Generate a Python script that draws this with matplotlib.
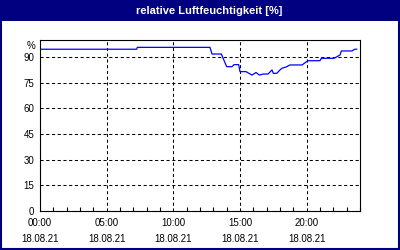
import numpy as np
import matplotlib
matplotlib.use("Agg")
import matplotlib.pyplot as plt
from matplotlib.patches import Rectangle

plt.rcParams['font.family'] = ['Liberation Sans', 'DejaVu Sans']

# Stunden seit 00:00 am 18.08.21 und rel. Feuchte in %
stunden = [0, 7.25, 7.3, 12.75, 12.9, 13.6, 14.0, 14.4, 14.55, 14.9, 15.0, 15.45,
           15.9, 16.2, 16.45, 16.75, 17.1, 17.4, 17.5, 17.75, 18.0, 18.15, 18.45,
           18.75, 19.65, 19.95, 20.1, 21.0, 21.1, 22.05, 22.5, 22.6, 23.4, 23.6, 23.75]
feuchte = [94.6, 94.6, 95.7, 95.7, 91.8, 91.8, 84.4, 84.4, 85.6, 85.6, 81.5, 81.5,
           79.5, 81.0, 79.5, 80.1, 80.1, 82.5, 80.5, 80.5, 82.5, 83.5, 84.2,
           85.4, 85.4, 87.1, 87.9, 87.9, 89.3, 89.3, 91.2, 93.6, 93.6, 94.6, 94.6]

x_ticks = [0, 5, 10, 15, 20]
x_labels = ["00:00\n18.08.21", "05:00\n18.08.21", "10:00\n18.08.21",
            "15:00\n18.08.21", "20:00\n18.08.21"]
y_ticks = [0, 15, 30, 45, 60, 75, 90]

navy = "#000080"

fig = plt.figure(figsize=(4, 2.5), dpi=100)
fig.patch.set_facecolor("white")
ax = fig.add_axes([0.1, 0.156, 0.8, 0.684])

ax.plot(stunden, feuchte, color="#0000ff", lw=0.9)

ax.set_xlim(0, 24)
ax.set_ylim(0, 100)
ax.set_xticks(x_ticks)
ax.set_xticklabels(x_labels, fontsize=7, linespacing=1.75)
ax.set_xticks(np.arange(0, 25, 1), minor=True)
ax.set_yticks(y_ticks)
ax.set_yticklabels([str(v) for v in y_ticks], fontsize=7)

ax.tick_params(axis="x", which="major", length=0, pad=5)
ax.tick_params(axis="x", which="minor", direction="in", length=3, width=0.8)
ax.tick_params(axis="y", length=0, pad=4)

ax.grid(True, which="major", color="black", lw=0.75, linestyle=(0, (3, 2.5)))
for s in ax.spines.values():
    s.set_linewidth(0.8)
    s.set_color("black")

ax.text(-0.015, 96.5, "%", transform=ax.get_yaxis_transform(), ha="right",
        va="center", fontsize=7)

# Rahmen und Titelleiste
fig.patches.append(Rectangle((0, 0.918), 1, 0.082, transform=fig.transFigure,
                             facecolor=navy, edgecolor="none", zorder=-1))
fig.patches.append(Rectangle((0.002, 0.004), 0.996, 0.994, transform=fig.transFigure,
                             facecolor="none", edgecolor=navy, lw=1.5))
fig.text(0.522, 0.958, "relative Luftfeuchtigkeit [%]", color="white",
         fontsize=8, fontweight="bold", ha="center", va="center")

fig.savefig("out.png", dpi=100)
